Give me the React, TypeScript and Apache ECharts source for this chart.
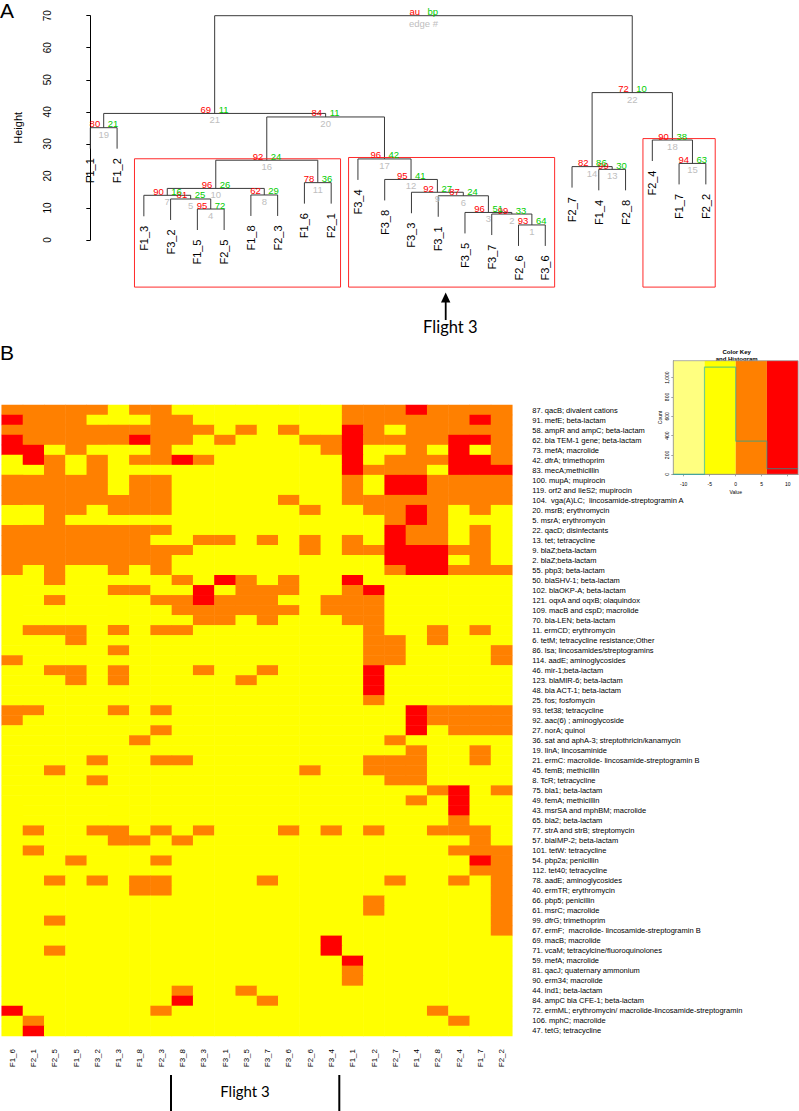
import React, { useEffect, useRef } from "react";
import * as echarts from "echarts";

// ---------- Panel A: dendrogram (pvclust) ----------
const leafLabels = ["F1_1","F1_2","F1_3","F3_2","F1_5","F2_5","F1_8","F2_3","F1_6","F2_1","F3_4","F3_8","F3_3","F3_1","F3_5","F3_7","F2_6","F3_6","F2_7","F1_4","F2_8","F2_4","F1_7","F2_2"];
// hclust-style merges: negative = leaf (1-based), positive = earlier edge
const mergeLeft = [-17,-16,-15,-5,-4,-14,-3,-7,-13,7,-9,-12,-20,-19,-23,10,-11,-22,-1,16,19,14,21];
const mergeRight = [-18,1,2,-6,4,3,5,-8,6,8,-10,9,-21,13,-24,11,12,15,-2,17,20,18,22];
const mergeHeight = [4.7,8.1,8.6,9.67,12.8,13.8,13.95,14.05,14.9,16.1,17.9,18.9,22.05,22.9,23.9,24.9,25.3,31.2,35.05,38.4,39.5,46.0,70.0];
const auValues = [93,99,96,95,81,87,90,62,92,96,78,95,99,82,94,92,96,90,80,84,69,72];
const bpValues = [64,33,51,72,25,24,16,29,27,26,36,41,30,86,63,24,42,38,21,11,11,10];
const boxEdges = [16, 17, 18];

// ---------- Panel B: heatmap ----------
const heatCols = ["F1_6","F2_1","F2_5","F1_5","F3_2","F1_3","F1_8","F2_3","F3_8","F3_3","F3_1","F3_5","F3_7","F3_6","F2_6","F3_4","F1_1","F1_2","F2_7","F1_4","F2_8","F2_4","F1_7","F2_2"];
const geneLabels = [
  "87. qacB; divalent cations",
  "91. mefE; beta-lactam",
  "58. ampR and ampC; beta-lactam",
  "62. bla TEM-1 gene; beta-lactam",
  "73. mefA; macrolide",
  "42. dfrA; trimethoprim",
  "83. mecA;methicillin",
  "100. mupA; mupirocin",
  "119. orf2 and IleS2; mupirocin",
  "104.  vga(A)LC;  lincosamide-streptogramin A",
  "20. msrB; erythromycin",
  "5. msrA; erythromycin",
  "22. qacD; disinfectants",
  "13. tet; tetracycline",
  "9. blaZ;beta-lactam",
  "2. blaZ;beta-lactam",
  "55. pbp3; beta-lactam",
  "50. blaSHV-1; beta-lactam",
  "102. blaOKP-A; beta-lactam",
  "121. oqxA and oqxB; olaquindox",
  "109. macB and cspD; macrolide",
  "70. bla-LEN; beta-lactam",
  "11. ermCD; erythromycin",
  "6. tetM; tetracycline resistance;Other",
  "86. lsa; lincosamides/streptogramins",
  "114. aadE; aminoglycosides",
  "46. mir-1;beta-lactam",
  "123. blaMIR-6; beta-lactam",
  "48. bla ACT-1; beta-lactam",
  "25. fos; fosfomycin",
  "93. tet38; tetracycline",
  "92. aac(6) ; aminoglycoside",
  "27. norA; quinol",
  "36. sat and aphA-3; streptothricin/kanamycin",
  "19. linA; lincosaminide",
  "21. ermC: macrolide- lincosamide-streptogramin B",
  "45. femB; methicillin",
  "8. TcR; tetracycline",
  "75. bla1; beta-lactam",
  "49. femA; methicillin",
  "43. msrSA and mphBM; macrolide",
  "65. bla2; beta-lactam",
  "77. strA and strB; streptomycin",
  "57. blaIMP-2; beta-lactam",
  "101. tetW: tetracycline",
  "54. pbp2a; penicillin",
  "112. tet40; tetracycline",
  "78. aadE; aminoglycosides",
  "40. ermTR; erythromycin",
  "66. pbp5; penicillin",
  "61. msrC; macrolide",
  "99. dfrG; trimethoprim",
  "67. ermF;  macrolide- lincosamide-streptogramin B",
  "69. macB; macrolide",
  "71. vcaM; tetracylcine/fluoroquinolones",
  "59. mefA; macrolide",
  "81. qacJ; quaternary ammonium",
  "90. erm34; macrolide",
  "44. ind1; beta-lactam",
  "84. ampC bla CFE-1; beta-lactam",
  "72. ermML; erythromycin/ macrolide-lincosamide-streptogramin",
  "106. mphC; macrolide",
  "47. tetG; tetracycline",
];
// Y = yellow (low), O = orange (mid), R = red (high), one char per column
const heatRows = [
  "OOOOOYOOYYYYYYYYOOOROOOO",
  "ROOOYYYOOYYYYYYYOOOOOORO",
  "OOOOOOOOOOYOYOYYROYOOOOO",
  "ROOOOOROOYOYYYOOROOOORRO",
  "RRYOYYYOYYYYYYYORYYOYRYO",
  "YROYOYOOROYYYYYYRYOOORRO",
  "YYOYOYYYYYYYYYYYROOOYRRR",
  "OOOOOYOOYYYYYYYYOYRROOOO",
  "OOOOOYOOYYYYYYYYOYRROOOO",
  "OOOOOOOOYYYYYOYYOOOOOOOO",
  "YYOOYOOOYYYYYYOYYOOROYOY",
  "YYOYYYYYYYYYYYYYYYOROYYY",
  "OOOOOOOOYYYYYYYYYYROOYOY",
  "OOOOOOOYYOOYOYOYOYROOYOY",
  "OOOOOOOOOYYYYYOYOORRROOY",
  "OOOOOOOOYYYYYYYYYYRRRYOY",
  "OYOYYOYOYYYYYYYYYYORROOO",
  "YYOYYYYYOYROYOYYRYYYYYYY",
  "YYYYYOOYYRYOOOYYORYYYYYY",
  "YYOYYYYOOROOOYYOOOYYYYYY",
  "YYYYYYYYOOOOOOYOOOYYYYYY",
  "YYYYYYYYYOOYOYYYOOYYYYYY",
  "YOOOYOYOOYYYYYYYYOYYOYOY",
  "YYYOYYYYYYYYYYYYYOOYOYYY",
  "YYYYYOYYYYYYYYYYYOOYYYYO",
  "OYYYYYYYYYYYYYYYYOOYYYYO",
  "YYOOYOYYYOYYOYYYYRYYYYYY",
  "YYYOYOYYYYYOYYYYYRYYYYYY",
  "YYYYYYYYYYYYYYYYYRYYYYYY",
  "YYYYYYYYYYYYYYYYYOYYYYYY",
  "OOYYYOYOYYYYYYYYYYYROOOO",
  "OYYYYYYYYYYYYYYYYYYROOOO",
  "YYYYYYYOYYYYYYYYYYYRYOOO",
  "YYYYYYOYYYYYYYYYYYOYYYYY",
  "YYYYYYYYYYYYYYYYYYYOYYOY",
  "YYYYOYYOOYYYYYYYYOOOYYOY",
  "YYOYYYYYYYYYYYOYYOOOYYYY",
  "YYYYOYYYYYYYYYYYYYOOYYYY",
  "YYYYYYYYYYYYYYYYYYYYORYO",
  "YYYYYYYYYYYYYYYYYYYOYRYY",
  "YYYYYYYYYYYYYYYYYYYYYRYY",
  "YYYYYYYYYYYYYYYYYYYYYOYY",
  "YOYYOOYOYOYYYOYOYOYYOOOY",
  "YYYYYOOYOYYYYYYYYYYYYYOY",
  "YOYYYYYYYYYYYYYYYYYYYOOO",
  "YYYOYYYOYYYYYYYYYYYYYYRO",
  "YYYYYYYYYYYYYYYYYYYYYYOO",
  "YYOYOYOOYYYYOYYYYYOYYOYO",
  "YYYYYYOOYYYYYYYYYYYYYYYO",
  "YYYYYYYYYYYYYYYYYOYYYYYO",
  "YYYYYYYYYYYYYYYYYOYYYYYO",
  "YYOYYYYYYYYYYYYYYYYYYYYO",
  "YYYYYYYYYYYYYYYYYYYYYYYO",
  "YYYYYYYYYYYYYYYRYYYYYYYY",
  "YYOYYYYYYYYYYYYRYYYYYYYY",
  "YYYYYYYYYYYYYYYYRYYYYYYY",
  "YYYYYYYYYYYYYYYYOYYYYYYY",
  "YYYYYYYYYYYYYYYYOYYYYYYY",
  "YYYYYYYYOYYOYYYYYYYYYYYY",
  "YYYYYYYYRYYYOYYYYYYYYYYY",
  "RYYYYYYOYYYYYYYYYYYYOYYY",
  "YOYYYYYYYYYYYYYYYYYYYOYY",
  "YRYYYYYYYYYYYYYYYYYYYYYY",
];
const levelCodes = ["Y", "O", "R"];
const levelColors = ["#FFFF00", "#FF8000", "#FF0000"];

// ---------- Colour key ----------
const keyBreaks = [-12, -6, 0, 6, 12];
const keyColors = ["#FFFF80", "#FFFF00", "#FF8000", "#FF0000"];
const keyXTicks = [-10, -5, 0, 5, 10];
const keyYTicks = [0, 200, 400, 600, 800, 1000];
const keyYMax = 1175;

const FONT = '"Liberation Sans", Arial, Helvetica, sans-serif';
const HANG = 6.55;
const RED = "#FF0000";
const GREEN = "#00CD00";
const GRAY = "#BEBEBE";

// derived tree geometry (data space)
const nodeX: number[] = [];
const childPos = (c: number) => (c < 0 ? -c - 1 : nodeX[c - 1]);
mergeHeight.forEach((_, i) => {
  nodeX[i] = (childPos(mergeLeft[i]) + childPos(mergeRight[i])) / 2;
});
const leavesOf = (c: number): number[] =>
  c < 0 ? [-c - 1] : [...leavesOf(mergeLeft[c - 1]), ...leavesOf(mergeRight[c - 1])];
const leafBottom: number[] = leafLabels.map((_, leaf) => {
  const i = mergeHeight.findIndex((_, k) => mergeLeft[k] === -(leaf + 1) || mergeRight[k] === -(leaf + 1));
  return mergeHeight[i] - HANG;
});

export default function App() {
  const ref = useRef<HTMLDivElement>(null);
  useEffect(() => {
    document.body.style.margin = "0";
    if (!ref.current) return;
    const chart = echarts.init(ref.current, null, { renderer: "svg" });

    const heatData: number[][] = [];
    const counts = [0, 0, 0, 0];
    heatRows.forEach((row, r) => {
      row.split("").forEach((ch, c) => {
        const lv = levelCodes.indexOf(ch);
        heatData.push([c, r, lv]);
        counts[lv + 1] += 1;
      });
    });
    const histPts: number[][] = [];
    counts.forEach((n, i) => {
      histPts.push([keyBreaks[i], n]);
      histPts.push([keyBreaks[i + 1], n]);
    });

    const txt = (text: string, x: number, y: number, fill: string, align: string, size: number) => ({
      type: "text",
      x,
      y,
      style: {
        text,
        fill,
        fontSize: size,
        fontFamily: FONT,
        align,
        textAlign: align,
        verticalAlign: "middle",
        textVerticalAlign: "middle",
      },
    });

    const option: any = {
      animation: false,
      textStyle: { fontFamily: FONT },
      grid: [
        { left: 65.7, top: 15.7, width: 666.9, height: 224.3 },
        { left: 1.7, top: 405, width: 510.6, height: 631 },
        { left: 673.3, top: 360.7, width: 124.8, height: 113.6 },
      ],
      xAxis: [
        { gridIndex: 0, type: "value", min: -0.92, max: 24, show: false },
        {
          gridIndex: 1,
          type: "category",
          data: heatCols,
          position: "bottom",
          axisLine: { show: false },
          axisTick: { show: false },
          splitLine: { show: false },
          axisLabel: { rotate: 90, fontSize: 8, margin: 13, interval: 0, color: "#000" },
        },
        {
          gridIndex: 2,
          type: "value",
          min: -12,
          max: 12,
          splitLine: { show: false },
          axisLine: { show: true, onZero: false, lineStyle: { color: "#666", width: 0.8 } },
          axisTick: { show: true, length: 2, customValues: keyXTicks, lineStyle: { color: "#666", width: 0.6 } },
          axisLabel: { customValues: keyXTicks, fontSize: 5, margin: 7, color: "#000" },
          name: "Value",
          nameLocation: "middle",
          nameGap: 15,
          nameTextStyle: { fontSize: 5, color: "#000" },
        },
      ],
      yAxis: [
        {
          gridIndex: 0,
          type: "value",
          min: 0,
          max: 70,
          interval: 10,
          splitLine: { show: false },
          axisLine: { show: true, lineStyle: { color: "#000", width: 1 } },
          axisTick: { show: true, length: 4, lineStyle: { color: "#000" } },
          axisLabel: { rotate: 90, fontSize: 10, margin: 13, color: "#000" },
          name: "Height",
          nameLocation: "middle",
          nameRotate: 90,
          nameGap: 42,
          nameTextStyle: { fontSize: 11, color: "#000" },
        },
        {
          gridIndex: 1,
          type: "category",
          data: geneLabels,
          inverse: true,
          position: "right",
          axisLine: { show: false },
          axisTick: { show: false },
          splitLine: { show: false },
          axisLabel: { fontSize: 7.5, margin: 20, interval: 0, color: "#000", align: "left" },
        },
        {
          gridIndex: 2,
          type: "value",
          min: 0,
          max: keyYMax,
          splitLine: { show: false },
          axisLine: { show: true, onZero: false, lineStyle: { color: "#666", width: 0.8 } },
          axisTick: { show: true, length: 2, customValues: keyYTicks, lineStyle: { color: "#666", width: 0.6 } },
          axisLabel: { customValues: keyYTicks, rotate: 90, fontSize: 5, margin: 4, color: "#000" },
          name: "Count",
          nameLocation: "middle",
          nameRotate: 90,
          nameGap: 11,
          nameTextStyle: { fontSize: 5, color: "#000" },
        },
      ],
      visualMap: {
        type: "piecewise",
        show: false,
        seriesIndex: 4,
        dimension: 2,
        pieces: levelColors.map((color, v) => ({ value: v, color })),
      },
      graphic: [
        { type: "text", x: 0, y: 10, style: { text: "A", fontSize: 21, fontFamily: FONT, fill: "#000", verticalAlign: "middle", textVerticalAlign: "middle" } },
        { type: "text", x: 0, y: 352, style: { text: "B", fontSize: 21, fontFamily: FONT, fill: "#000", verticalAlign: "middle", textVerticalAlign: "middle" } },
        { type: "line", shape: { x1: 445.7, y1: 300, x2: 445.7, y2: 320 }, style: { stroke: "#000", lineWidth: 1.8 } },
        { type: "polygon", shape: { points: [[445.7, 292.5], [441, 302.5], [450.4, 302.5]] }, style: { fill: "#000" } },
        { type: "text", x: 450.3, y: 326.5, style: { text: "Flight 3", fontSize: 16.5, fontFamily: "Lato, sans-serif", fill: "#000", align: "center", textAlign: "center", verticalAlign: "middle", textVerticalAlign: "middle" } },
        { type: "line", shape: { x1: 171, y1: 1075, x2: 171, y2: 1111 }, style: { stroke: "#000", lineWidth: 2 } },
        { type: "line", shape: { x1: 339.3, y1: 1075, x2: 339.3, y2: 1111 }, style: { stroke: "#000", lineWidth: 2 } },
        { type: "text", x: 245, y: 1090.5, style: { text: "Flight 3", fontSize: 15, fontFamily: "Lato, sans-serif", fill: "#000", align: "center", textAlign: "center", verticalAlign: "middle", textVerticalAlign: "middle" } },
        { type: "text", x: 736.7, y: 352.3, style: { text: "Color Key", fontSize: 6, fontWeight: "bold", fontFamily: FONT, fill: "#000", align: "center", textAlign: "center", verticalAlign: "middle", textVerticalAlign: "middle" } },
        { type: "text", x: 736.7, y: 358.8, style: { text: "and Histogram", fontSize: 6, fontWeight: "bold", fontFamily: FONT, fill: "#000", align: "center", textAlign: "center", verticalAlign: "middle", textVerticalAlign: "middle" } },
      ],
      series: [
        // 0 dendrogram links
        {
          type: "custom",
          xAxisIndex: 0,
          yAxisIndex: 0,
          clip: false,
          silent: true,
          data: mergeHeight.map((h, i) => [nodeX[i], h, i]),
          encode: { x: 0, y: 1 },
          renderItem: (_p: any, api: any) => {
            const i = api.value(2);
            const l = mergeLeft[i];
            const r = mergeRight[i];
            const h = mergeHeight[i];
            const hl = l < 0 ? h - HANG : mergeHeight[l - 1];
            const hr = r < 0 ? h - HANG : mergeHeight[r - 1];
            const pts = [[childPos(l), hl], [childPos(l), h], [childPos(r), h], [childPos(r), hr]].map((q) => api.coord(q));
            return { type: "polyline", shape: { points: pts }, style: { stroke: "#3a3a3a", lineWidth: 1, fill: "none" } };
          },
        },
        // 1 pvrect boxes
        {
          type: "custom",
          xAxisIndex: 0,
          yAxisIndex: 0,
          clip: false,
          silent: true,
          data: boxEdges.map((e) => {
            const lv = leavesOf(e);
            return [Math.min(...lv), mergeHeight[e - 1], Math.max(...lv)];
          }),
          encode: { x: 0, y: 1 },
          renderItem: (_p: any, api: any) => {
            const a = api.coord([api.value(0) - 0.35, api.value(1) + 0.45]);
            const b = api.coord([api.value(2) + 0.35, -14.7]);
            return { type: "rect", shape: { x: a[0], y: a[1], width: b[0] - a[0], height: b[1] - a[1] }, style: { fill: "none", stroke: "#ff2a2a", lineWidth: 1 } };
          },
        },
        // 2 au / bp / edge labels
        {
          type: "custom",
          xAxisIndex: 0,
          yAxisIndex: 0,
          clip: false,
          silent: true,
          data: mergeHeight.map((h, i) => [nodeX[i], h, i]),
          encode: { x: 0, y: 1 },
          renderItem: (_p: any, api: any) => {
            const i = api.value(2);
            const p = api.coord([api.value(0), api.value(1)]);
            const root = i === mergeHeight.length - 1;
            return {
              type: "group",
              children: [
                txt(root ? "au" : String(auValues[i]), p[0] - 3.5, p[1] - 4, RED, "right", 9.5),
                txt(root ? "bp" : String(bpValues[i]), p[0] + 4, p[1] - 4, GREEN, "left", 9.5),
                txt(root ? "edge #" : String(i + 1), p[0], p[1] + (root ? 7.3 : 6.5), GRAY, "center", 9.5),
              ],
            };
          },
        },
        // 3 leaf labels
        {
          type: "custom",
          xAxisIndex: 0,
          yAxisIndex: 0,
          clip: false,
          silent: true,
          data: leafLabels.map((_, i) => [i, leafBottom[i], i]),
          encode: { x: 0, y: 1 },
          renderItem: (_p: any, api: any) => {
            const i = api.value(2);
            const p = api.coord([api.value(0), api.value(1)]);
            return {
              type: "text",
              x: p[0],
              y: p[1] + 9.5,
              rotation: Math.PI / 2,
              style: {
                text: leafLabels[i],
                fill: "#000",
                fontSize: 11,
                fontFamily: FONT,
                align: "right",
                textAlign: "right",
                verticalAlign: "middle",
                textVerticalAlign: "middle",
              },
            };
          },
        },
        // 4 heatmap
        {
          type: "heatmap",
          xAxisIndex: 1,
          yAxisIndex: 1,
          data: heatData,
          silent: true,
          itemStyle: { borderWidth: 0 },
          emphasis: { disabled: true },
          progressive: 0,
        },
        // 5 colour key bands
        {
          type: "custom",
          xAxisIndex: 2,
          yAxisIndex: 2,
          silent: true,
          data: keyColors.map((_, i) => [keyBreaks[i], 0, keyBreaks[i + 1], i]),
          encode: { x: 0, y: 1 },
          renderItem: (_p: any, api: any) => {
            const a = api.coord([api.value(0), keyYMax]);
            const b = api.coord([api.value(2), 0]);
            return { type: "rect", shape: { x: a[0], y: a[1], width: b[0] - a[0], height: b[1] - a[1] }, style: { fill: keyColors[api.value(3)] } };
          },
        },
        // 6 histogram
        {
          type: "line",
          xAxisIndex: 2,
          yAxisIndex: 2,
          data: histPts,
          symbol: "none",
          silent: true,
          lineStyle: { color: "rgba(0,170,170,0.55)", width: 1.2 },
        },
        // 7 key frame
        {
          type: "custom",
          xAxisIndex: 2,
          yAxisIndex: 2,
          silent: true,
          clip: false,
          data: [[keyBreaks[0], 0, keyBreaks[keyBreaks.length - 1]]],
          encode: { x: 0, y: 1 },
          renderItem: (_p: any, api: any) => {
            const a = api.coord([api.value(0), keyYMax]);
            const b = api.coord([api.value(2), 0]);
            return { type: "rect", shape: { x: a[0], y: a[1], width: b[0] - a[0], height: b[1] - a[1] }, style: { fill: "none", stroke: "#999", lineWidth: 0.8 } };
          },
        },
      ],
    };
    chart.setOption(option);
    return () => chart.dispose();
  }, []);
  return <div ref={ref} style={{ width: 799, height: 1111 }} />;
}
